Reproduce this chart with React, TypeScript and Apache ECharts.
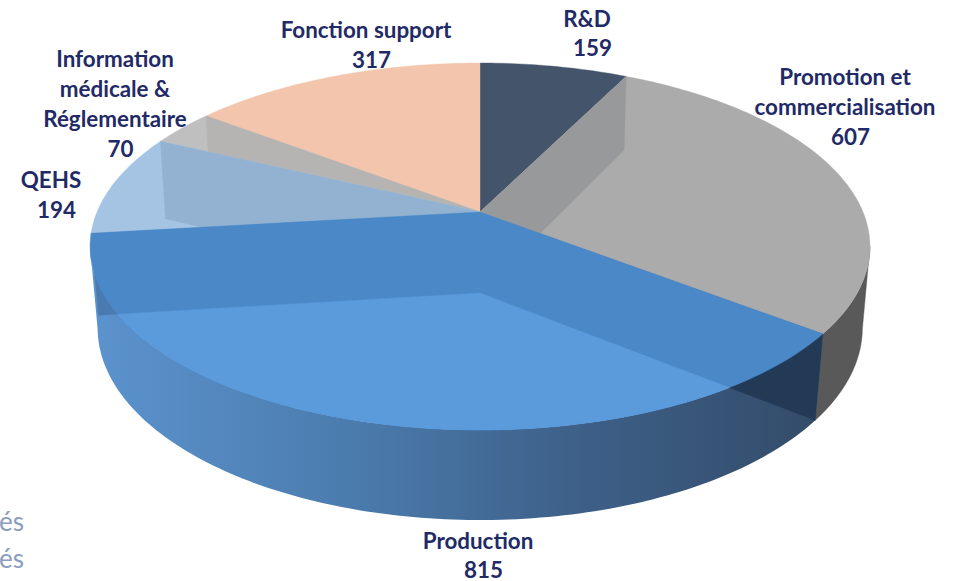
import React, { useEffect, useRef } from "react";
import * as echarts from "echarts";

const categories = ["R&D", "Promotion et\ncommercialisation", "Production", "QEHS", "Information\nmédicale &\nRéglementaire", "Fonction support"];
const values = [159, 607, 815, 194, 70, 317];

const topColors = ["#44546A", "#ABABAB", "#4A88C8", "#A5C4E4", "#BFBFBF", "#F3C5AD"];
const outerColors: any[] = [
  "#44546A",
  "#595959",
  new echarts.graphic.LinearGradient(0, 0, 1, 0, [
    { offset: 0, color: "#5C93CE" },
    { offset: 0.35, color: "#4B7CAE" },
    { offset: 0.65, color: "#3E618A" },
    { offset: 1, color: "#334B68" },
  ]),
  "#A5C4E4",
  "#BFBFBF",
  "#F3C5AD",
];
const floorLight = "#5B9BDC";
const endWallColors = ["#98999B", null, "#4A7BB0", "#93B2D2", "#B5B4B2", null];
const startWallColors = [null, null, "#233A57", null, null, null];
const topZ = [10, 10, 20, 14, 12, 10];
const wallZ = [11, 0, 2, 15, 13, 0];

const cx = 480;
const topPlane = { cy: 212, a: 177, b: 383, k: 0.188 };
const botPlane = { cy: 293, a: 185.7, b: 376, k: 0.182 };
const labelAnchors = [[587, 33], [845, 106.5], [478, 555], [51, 194.5], [115, 103.5], [366, 44.5]];
const labelColor = "#1F2A66";
const labelFont = "Lato, Carlito, sans-serif";
const wallFromDeg = 100.8;
const wallToDeg = 259.2;

const total = values.reduce((s, v) => s + v, 0);
const rad = (d: number) => (d * Math.PI) / 180;

function proj(deg: number, p: any): number[] {
  const x = Math.sin(rad(deg));
  const y = -Math.cos(rad(deg));
  const d = 1 - p.k * y;
  return [cx + (p.b * x) / d, p.cy + (p.a * y) / d];
}
function arc(from: number, to: number, p: any): number[][] {
  const pts: number[][] = [];
  const n = Math.max(2, Math.ceil(Math.abs(to - from)));
  for (let i = 0; i <= n; i++) pts.push(proj(from + ((to - from) * i) / n, p));
  return pts;
}
function toUnit(pt: number[], p: any): number[] {
  const v = pt[1] - p.cy;
  const y = v / (p.a + p.k * v);
  const x = ((pt[0] - cx) * (1 - p.k * y)) / p.b;
  return [x, y];
}
function crossing(from: number[], to: number[]): number[] {
  let lo = 0;
  let hi = 1;
  for (let i = 0; i < 30; i++) {
    const t = (lo + hi) / 2;
    const q = [from[0] + (to[0] - from[0]) * t, from[1] + (to[1] - from[1]) * t];
    const u = toUnit(q, topPlane);
    if (u[0] * u[0] + u[1] * u[1] <= 1) lo = t;
    else hi = t;
  }
  return [from[0] + (to[0] - from[0]) * lo, from[1] + (to[1] - from[1]) * lo];
}
function angleOf(pt: number[]): number {
  const u = toUnit(pt, topPlane);
  let d = (Math.atan2(u[0], -u[1]) * 180) / Math.PI;
  if (d < 0) d += 360;
  return d;
}
const poly = (points: number[][], fill: any, z2: number) => ({
  type: "polygon",
  z2,
  shape: { points },
  style: { fill, stroke: typeof fill === "string" ? fill : undefined, lineWidth: typeof fill === "string" ? 0.4 : 0 },
});

function renderItem(params: any, api: any) {
  const i = params.dataIndex;
  const before = values.slice(0, i).reduce((s, v) => s + v, 0);
  const a0 = (before / total) * 360;
  const a1 = a0 + (api.value(0) / total) * 360;
  const apexT = [cx, topPlane.cy];
  const apexB = [cx, botPlane.cy];
  const children: any[] = [];

  const w0 = Math.max(a0, wallFromDeg);
  const w1 = Math.min(a1, wallToDeg);
  if (w1 > w0) {
    children.push(poly([...arc(w0, w1, topPlane), ...arc(w1, w0, botPlane)], outerColors[i], 1));
  }
  children.push(poly([apexT, ...arc(a0, a1, topPlane)], topColors[i], topZ[i]));
  if (endWallColors[i]) {
    children.push(poly([apexT, proj(a1, topPlane), proj(a1, botPlane), apexB], endWallColors[i], wallZ[i]));
  }
  if (startWallColors[i]) {
    children.push(poly([apexT, proj(a0, topPlane), proj(a0, botPlane), apexB], startWallColors[i], wallZ[i]));
  }
  if (i === 2) {
    const c0 = crossing(apexB, proj(a0, botPlane));
    const c1 = crossing(apexB, proj(a1, botPlane));
    children.push(poly([apexB, c0, ...arc(angleOf(c0), angleOf(c1), topPlane), c1], floorLight, 21));
  }
  children.push({
    type: "text",
    z2: 100,
    x: labelAnchors[i][0],
    y: labelAnchors[i][1],
    style: {
      text: `${categories[i]}\n  ${api.value(0)}`,
      fill: labelColor,
      font: `bold 22.4px ${labelFont}`,
      lineHeight: 29.8,
      align: "center",
      verticalAlign: "middle",
    },
  });
  return { type: "group", children };
}

export default function App() {
  const ref = useRef<HTMLDivElement>(null);
  useEffect(() => {
    document.body.style.margin = "0";
    const chart = echarts.init(ref.current!, null, { renderer: "svg" });
    chart.setOption({
      animation: false,
      backgroundColor: "#FFFFFF",
      graphic: [
        { type: "text", x: 24, y: 521, style: { text: "és", fill: "#8A9DBE", font: `26px ${labelFont}`, align: "right", verticalAlign: "middle" } },
        { type: "text", x: 24, y: 558, style: { text: "és", fill: "#8A9DBE", font: `26px ${labelFont}`, align: "right", verticalAlign: "middle" } },
      ],
      series: [
        {
          type: "custom",
          coordinateSystem: "none",
          silent: true,
          clip: false,
          data: values,
          renderItem,
        },
      ],
    });
    return () => chart.dispose();
  }, []);
  return <div ref={ref} style={{ position: "absolute", left: 0, top: 0, width: 964, height: 581 }} />;
}
